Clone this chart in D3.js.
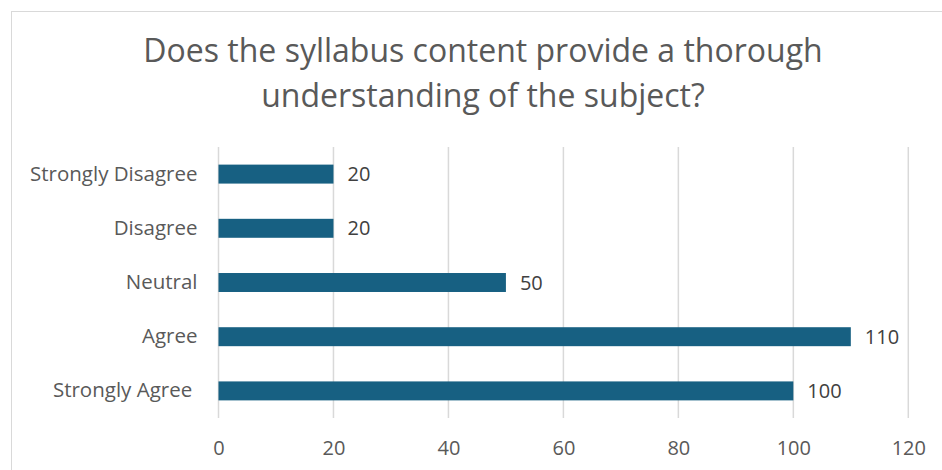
<!DOCTYPE html>
<html>
<head>
<meta charset="utf-8">
<script src="https://cdn.jsdelivr.net/npm/d3@7"></script>
<style>
  body { margin: 0; background: #fff; }
  svg { display: block; font-family: "Open Sans", "Noto Sans", sans-serif; }
</style>
</head>
<body>
<svg id="chart" width="942" height="470"></svg>
<script>
// data (the last label carries a trailing space, as in the source)
var categories = ["Strongly Disagree", "Disagree", "Neutral", "Agree", "Strongly Agree "];
var values = [20, 20, 50, 110, 100];
var xTicks = [0, 20, 40, 60, 80, 100, 120];
var titleLines = ["Does the syllabus content provide a thorough", "understanding of the subject?"];

var svg = d3.select("#chart");

// chart border (runs off the right / bottom of the picture)
svg.append("rect")
  .attr("x", 11.5).attr("y", 11.5)
  .attr("width", 960).attr("height", 480)
  .attr("fill", "#fff")
  .attr("stroke", "#d9d9d9");

svg.append("text")
  .attr("text-anchor", "middle")
  .attr("fill", "#595959")
  .style("font-size", "32px")
  .selectAll("tspan")
  .data(titleLines)
  .enter().append("tspan")
  .attr("x", 483)
  .attr("y", function(d, i) { return 62 + i * 45; })
  .text(function(d) { return d; });

var margin = {top: 147, left: 218.5, right: 942 - 908.3, bottom: 470 - 418};
var width = 942 - margin.left - margin.right,
    height = 470 - margin.top - margin.bottom;

var g = svg.append("g")
  .attr("transform", "translate(" + margin.left + "," + margin.top + ")");

var x = d3.scaleLinear().domain([0, 120]).range([0, width]);
var y = d3.scaleBand().domain(categories).range([0, height]).paddingInner(0.65).paddingOuter(0.325);

// gridlines
g.selectAll(".grid")
  .data(xTicks)
  .enter().append("line")
  .attr("x1", function(d) { return x(d); })
  .attr("x2", function(d) { return x(d); })
  .attr("y1", 0).attr("y2", height)
  .attr("stroke", "#d9d9d9")
  .attr("stroke-width", 1.5);

// x axis labels
var xAxis = d3.axisBottom(x).tickValues(xTicks).tickSize(0).tickPadding(23);
var xg = g.append("g").attr("transform", "translate(0," + height + ")").call(xAxis)
  .attr("font-family", null).attr("font-size", null);
xg.select(".domain").remove();
xg.selectAll("text").attr("fill", "#595959").style("font-size", "20px");

// y axis labels
var yAxis = d3.axisLeft(y).tickSize(0).tickPadding(21);
var yg = g.append("g").call(yAxis)
  .attr("font-family", null).attr("font-size", null);
yg.select(".domain").remove();
yg.selectAll("text")
  .attr("fill", "#595959")
  .style("font-size", "20.5px")
  .style("white-space", "pre");

// bars
g.selectAll(".bar")
  .data(values)
  .enter().append("rect")
  .attr("class", "bar")
  .attr("x", x(0))
  .attr("y", function(d, i) { return y(categories[i]); })
  .attr("width", function(d) { return x(d) - x(0); })
  .attr("height", y.bandwidth())
  .attr("fill", "#176082");

// value labels
g.selectAll(".val")
  .data(values)
  .enter().append("text")
  .attr("x", function(d) { return x(d) + 14; })
  .attr("y", function(d, i) { return y(categories[i]) + y.bandwidth() / 2; })
  .attr("dy", "0.35em")
  .attr("fill", "#404040")
  .style("font-size", "20px")
  .text(function(d) { return d; });
</script>
</body>
</html>
